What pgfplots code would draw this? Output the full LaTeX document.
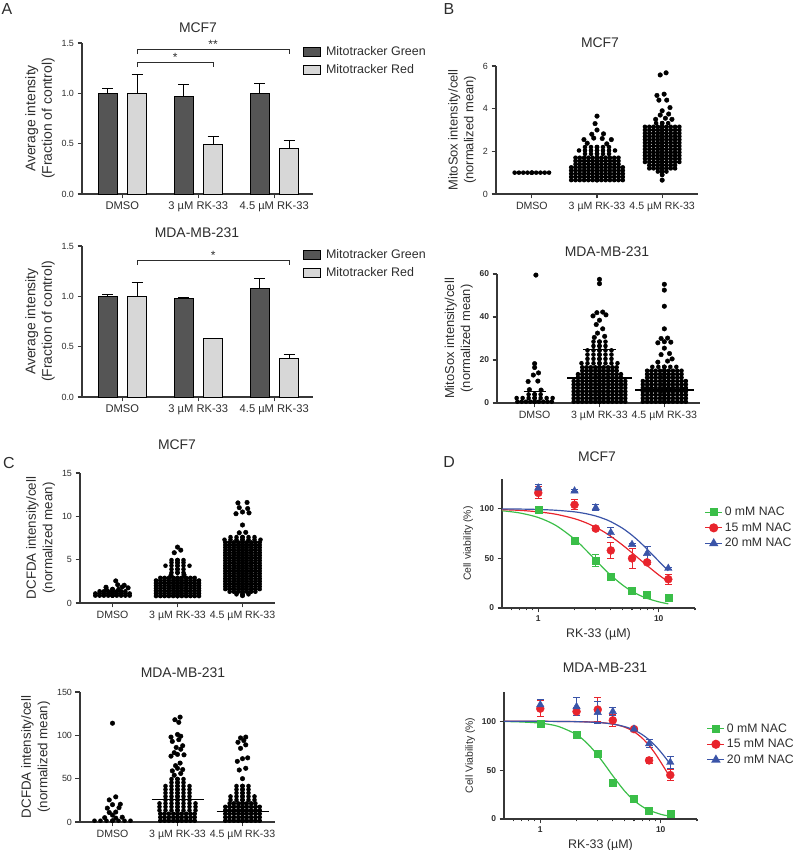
\documentclass[border=0pt]{standalone}
\usepackage{fontspec}
\setmainfont{Liberation Sans}
\usepackage{pgfplots}
\pgfplotsset{compat=1.18}

\definecolor{txt}{RGB}{45,45,45}
\definecolor{axc}{RGB}{55,55,55}
\definecolor{darkbar}{RGB}{85,85,85}
\definecolor{lightbar}{RGB}{215,215,215}
\definecolor{gr}{RGB}{58,190,72}
\definecolor{rd}{RGB}{232,36,44}
\definecolor{bl}{RGB}{58,84,168}

\pgfplotsset{
  panel/.style={
    scale only axis, clip=false,
    axis lines*=left, tick align=outside,
    axis line style={line width=1.1pt, axc},
    tick style={line width=1.1pt, axc},
    major tick length=4.5bp, minor tick length=2.5bp,
    tick label style={text=txt},
    yticklabel style={font=\fontsize{9}{10}\selectfont},
    xticklabel style={font=\fontsize{10.6}{12}\selectfont},
    label style={font=\fontsize{13}{16}\selectfont, text=txt, align=center},
    /pgf/number format/assume math mode=true,
  },
  boldticks/.style={yticklabel style={font=\bfseries\fontsize{8.5}{10}\selectfont}},
  swarm/.style={only marks, mark=none, forget plot,
    /pgfplots/error bars/x dir=both, /pgfplots/error bars/x explicit,
    /pgfplots/error bars/error mark=none,
    /pgfplots/error bars/error bar style={line width=4.6bp, line cap=round, dash pattern=on 0pt off 4.3bp, black}},
  loose/.style={swarm, /pgfplots/error bars/error bar style={dash pattern=on 0pt off 6bp}},
  dots/.style={only marks, mark=*, mark size=2.3bp, black, forget plot},
  meanline/.style={black, line width=1.2pt, forget plot},
  barlegend/.style={
    legend style={draw=none, fill=none, at={(0.957,0.99)}, anchor=north west, inner sep=0pt,
      row sep=3.5bp, column sep=3bp, font=\fontsize{12.5}{14}\selectfont, text=txt},
    legend cell align=left},
  bargreen/.style={fill=darkbar, draw=black, line width=0.8pt, bar shift=-0.19,
    legend image code/.code={\draw[##1, line width=0.8pt] (0bp,-4.5bp) rectangle (17bp,4.5bp);},
    /pgfplots/error bars/y dir=plus, /pgfplots/error bars/y explicit,
    /pgfplots/error bars/error bar style={line width=1.1pt, black},
    /pgfplots/error bars/error mark options={rotate=90, mark size=5.5bp, line width=1.1pt, black}},
  barred/.style={bargreen, fill=lightbar, bar shift=0.195},
  vmark/.style={only marks, color=#1, mark options={fill=#1, draw=#1},
    legend image code/.code={\draw[mark repeat=2, mark phase=2, ##1, sharp plot, line width=1.1pt] plot coordinates {(0bp,0bp)(8.5bp,0bp)(17bp,0bp)};},
    /pgfplots/error bars/y dir=both, /pgfplots/error bars/y explicit,
    /pgfplots/error bars/error bar style={line width=1pt, #1},
    /pgfplots/error bars/error mark options={rotate=90, mark size=3.5bp, line width=1pt, #1}},
  fitline/.style={#1, line width=1.2pt, smooth, forget plot},
}

\begin{document}
\begin{tikzpicture}
\path[use as bounding box] (0,0) rectangle (800bp,850bp);

% ---------- A: Mitotracker, MCF7
\begin{axis}[panel, barlegend, at={(82bp,656bp)}, anchor=south west, width=231bp, height=151bp,
  xmin=-0.53, xmax=2.51, ymin=0, ymax=1.5,
  xtick={0,1,2}, xticklabels={DMSO, 3 µM RK-33, 4.5 µM RK-33},
  xticklabel style={font=\fontsize{11.2}{12}\selectfont},
  ytick={0,0.5,1,1.5}, yticklabels={0.0,0.5,1.0,1.5},
  ylabel={Average intensity\\(Fraction of control)},
  ylabel style={font=\fontsize{14}{16.5}\selectfont},
  ybar, bar width=0.255]
\addplot[bargreen] coordinates {(0,1.00) +- (0,0.05) (1,0.97) +- (0,0.12) (2,1.00) +- (0,0.10)};
\addplot[barred] coordinates {(0,1.00) +- (0,0.19) (1,0.49) +- (0,0.08) (2,0.45) +- (0,0.08)};
\legend{Mitotracker Green, Mitotracker Red}
\draw[line width=0.9pt, txt] (0.195,1.39) -- (0.195,1.44) -- (2.195,1.44) -- (2.195,1.39);
\draw[line width=0.9pt, txt] (0.195,1.26) -- (0.195,1.31) -- (1.195,1.31) -- (1.195,1.26);
\node[anchor=base, inner sep=0pt, text=txt, font=\fontsize{12}{12}\selectfont] at (1.195,1.45) {**};
\node[anchor=base, inner sep=0pt, text=txt, font=\fontsize{12}{12}\selectfont] at (0.695,1.32) {*};
\end{axis}

% ---------- A: Mitotracker, MDA-MB-231
\begin{axis}[panel, barlegend, at={(82bp,453bp)}, anchor=south west, width=231bp, height=151bp,
  xmin=-0.53, xmax=2.51, ymin=0, ymax=1.5,
  xtick={0,1,2}, xticklabels={DMSO, 3 µM RK-33, 4.5 µM RK-33},
  xticklabel style={font=\fontsize{11.2}{12}\selectfont},
  ytick={0,0.5,1,1.5}, yticklabels={0.0,0.5,1.0,1.5},
  ylabel={Average intensity\\(Fraction of control)},
  ylabel style={font=\fontsize{14}{16.5}\selectfont},
  ybar, bar width=0.255]
\addplot[bargreen] coordinates {(0,1.00) +- (0,0.02) (1,0.98) +- (0,0.005) (2,1.08) +- (0,0.10)};
\addplot[barred] coordinates {(0,1.00) +- (0,0.14) (1,0.58) +- (0,0) (2,0.38) +- (0,0.04)};
\legend{Mitotracker Green, Mitotracker Red}
\draw[line width=0.9pt, txt] (0.195,1.31) -- (0.195,1.36) -- (2.195,1.36) -- (2.195,1.31);
\node[anchor=base, inner sep=0pt, text=txt, font=\fontsize{12}{12}\selectfont] at (1.195,1.37) {*};
\end{axis}

% ---------- B: MitoSox, MCF7
\begin{axis}[panel, at={(496bp,656bp)}, anchor=south west, width=202bp, height=128bp,
  xmin=-0.55, xmax=2.55, ymin=0, ymax=6, ytick={0,2,4,6},
  xtick={0,1,2}, xticklabels={DMSO, 3 µM RK-33, 4.5 µM RK-33},
  ylabel={MitoSox intensity/cell\\(normalized mean)}]
\addplot[swarm] coordinates {
 (0,1) +- (0.30,0)
 (1,0.65) +- (0.40,0) (1,0.80) +- (0.42,0) (1,0.95) +- (0.42,0) (1,1.10) +- (0.42,0)
 (1,1.25) +- (0.40,0) (1,1.40) +- (0.38,0) (1,1.55) +- (0.36,0) (1,1.70) +- (0.36,0)
 (2,1.05) +- (0.10,0) (2,1.20) +- (0.20,0) (2,1.35) +- (0.26,0) (2,1.50) +- (0.30,0)
 (2,1.65) +- (0.32,0) (2,1.80) +- (0.32,0) (2,1.95) +- (0.32,0) (2,2.10) +- (0.32,0)
 (2,2.25) +- (0.32,0) (2,2.40) +- (0.32,0) (2,2.55) +- (0.32,0) (2,2.70) +- (0.32,0)
 (2,2.85) +- (0.30,0) (2,3.00) +- (0.30,0) (2,3.15) +- (0.30,0)};
\addplot[loose] coordinates {
 (1,1.88) +- (0.22,0) (1,2.04) +- (0.30,0) (1,2.20) +- (0.20,0)
 (2,0.90) +- (0.05,0) (2,3.32) +- (0.15,0)};
\addplot[dots] coordinates {
 (0.85,2.38) (1.15,2.35) (0.80,2.55) (0.95,2.62) (1.08,2.60) (1.22,2.55) (0.92,2.80)
 (1.10,2.82) (1.00,3.00) (0.97,3.30) (1.00,3.65)
 (2.00,0.65) (1.90,3.50) (2.05,3.55) (2.15,3.50) (1.97,3.70) (2.10,3.75) (2.00,3.90)
 (2.12,4.05) (1.95,4.40) (2.07,4.40) (1.92,4.62) (2.03,4.68) (1.97,5.58) (2.06,5.68)};
\end{axis}

% ---------- B: MitoSox, MDA-MB-231
\begin{axis}[panel, boldticks, at={(497bp,447bp)}, anchor=south west, width=203bp, height=129bp,
  xmin=-0.58, xmax=2.55, ymin=0, ymax=60, ytick={0,20,40,60},
  xtick={0,1,2}, xticklabels={DMSO, 3 µM RK-33, 4.5 µM RK-33},
  ylabel={MitoSox intensity/cell\\(normalized mean)}]
\addplot[swarm] coordinates {
 (0,0.6) +- (0.33,0)
 (1,0.6) +- (0.44,0) (1,2.2) +- (0.44,0) (1,3.8) +- (0.44,0) (1,5.4) +- (0.44,0)
 (1,7.0) +- (0.42,0) (1,8.6) +- (0.42,0) (1,10.2) +- (0.40,0) (1,11.8) +- (0.36,0)
 (1,13.4) +- (0.34,0) (1,15.0) +- (0.30,0) (1,16.6) +- (0.28,0)
 (2,0.6) +- (0.36,0) (2,2.2) +- (0.36,0) (2,3.8) +- (0.36,0) (2,5.4) +- (0.36,0)
 (2,7.0) +- (0.36,0) (2,8.6) +- (0.36,0) (2,10.2) +- (0.34,0) (2,11.8) +- (0.32,0)
 (2,13.4) +- (0.30,0) (2,15.0) +- (0.28,0)};
\addplot[loose] coordinates {
 (0,2.3) +- (0.28,0) (0,4.0) +- (0.14,0)
 (1,18.5) +- (0.30,0) (1,20.5) +- (0.26,0) (1,22.5) +- (0.22,0) (1,24.5) +- (0.20,0)
 (1,26.5) +- (0.14,0) (1,28.5) +- (0.12,0)
 (2,16.8) +- (0.25,0)};
\addplot[dots] coordinates {
 (-0.08,6.2) (0.10,6.0) (-0.10,10.0) (0.05,10.2) (-0.02,13.0) (0.06,14.0) (0,16.5) (0,18.3) (0.02,59.5)
 (0.92,30.5) (1.08,31.0) (0.97,32.5) (1.05,34.5) (0.95,36.5) (1.00,38.5) (0.90,40.5)
 (1.10,41.0) (0.96,42.0) (1.05,42.3) (1.00,55.5) (1.00,57.5)
 (1.90,19.0) (2.05,19.5) (2.12,20.5) (1.95,22.5) (2.08,23.0) (2.00,25.5) (1.90,28.0)
 (2.00,28.5) (2.10,28.3) (1.95,30.0) (2.05,30.2) (2.00,34.5) (2.00,45.0) (2.00,52.5) (2.00,55.2)};
\addplot[meanline] coordinates {(-0.17,5.5) (0.17,5.5)};
\addplot[meanline] coordinates {(0.50,11.6) (1.50,11.6)};
\addplot[meanline] coordinates {(0.75,25.0) (1.25,25.0)};
\addplot[meanline] coordinates {(1.55,6.0) (2.45,6.0)};
\end{axis}

% ---------- C: DCFDA, MCF7
\begin{axis}[panel, at={(80bp,247bp)}, anchor=south west, width=195bp, height=130bp,
  xmin=-0.5, xmax=2.5, ymin=0, ymax=15, ytick={0,5,10,15},
  xtick={0,1,2}, xticklabels={DMSO, 3 µM RK-33, 4.5 µM RK-33},
  ylabel={DCFDA intensity/cell\\(normalized mean)},
  ylabel style={font=\fontsize{13.4}{16.5}\selectfont}]
\addplot[swarm] coordinates {
 (0,0.85) +- (0.28,0) (0,1.10) +- (0.28,0) (0,1.35) +- (0.26,0)
 (1,0.8) +- (0.37,0) (1,1.1) +- (0.37,0) (1,1.4) +- (0.37,0) (1,1.7) +- (0.37,0)
 (1,2.0) +- (0.37,0) (1,2.3) +- (0.36,0) (1,2.6) +- (0.34,0) (1,2.9) +- (0.30,0)
 (2,1.3) +- (0.20,0) (2,1.6) +- (0.28,0) (2,1.9) +- (0.32,0) (2,2.2) +- (0.33,0)
 (2,2.5) +- (0.33,0) (2,2.8) +- (0.33,0) (2,3.1) +- (0.33,0) (2,3.4) +- (0.33,0)
 (2,3.7) +- (0.33,0) (2,4.0) +- (0.33,0) (2,4.3) +- (0.33,0) (2,4.6) +- (0.33,0)
 (2,4.9) +- (0.33,0) (2,5.2) +- (0.33,0) (2,5.5) +- (0.33,0) (2,5.8) +- (0.32,0)
 (2,6.1) +- (0.32,0) (2,6.4) +- (0.30,0) (2,6.7) +- (0.30,0) (2,7.0) +- (0.28,0)};
\addplot[loose] coordinates {
 (0,1.6) +- (0.18,0)
 (1,3.5) +- (0.12,0) (1,3.9) +- (0.18,0) (1,4.3) +- (0.20,0) (1,4.65) +- (0.18,0) (1,4.95) +- (0.10,0)
 (2,1.0) +- (0.10,0) (2,7.3) +- (0.28,0) (2,7.6) +- (0.26,0)};
\addplot[dots] coordinates {
 (-0.10,1.82) (0.15,1.85) (0.24,1.75) (0.08,2.10) (0.18,2.05) (0.05,2.55)
 (0.90,3.20) (1.10,3.25) (0.95,5.80) (1.05,6.10) (1.00,6.45)
 (2.00,0.85) (1.95,8.10) (2.05,8.15) (2.00,9.00) (1.90,10.30) (2.00,10.50) (2.10,10.40)
 (1.95,11.00) (2.08,10.90) (1.93,11.55) (2.07,11.60)};
\end{axis}

% ---------- C: DCFDA, MDA-MB-231
\begin{axis}[panel, at={(80bp,28bp)}, anchor=south west, width=195bp, height=130bp,
  xmin=-0.5, xmax=2.5, ymin=0, ymax=150, ytick={0,50,100,150},
  xtick={0,1,2}, xticklabels={DMSO, 3 µM RK-33, 4.5 µM RK-33},
  ylabel={DCFDA intensity/cell\\(normalized mean)},
  ylabel style={font=\fontsize{13.4}{16.5}\selectfont}]
\addplot[swarm] coordinates {
 (1,1.5) +- (0.30,0) (1,5.5) +- (0.30,0) (1,9.5) +- (0.30,0)
 (2,1.5) +- (0.28,0) (2,5.5) +- (0.28,0) (2,9.5) +- (0.28,0) (2,13.5) +- (0.28,0)
 (2,17.5) +- (0.28,0) (2,21.5) +- (0.26,0)};
\addplot[loose] coordinates {
 (0,1.5) +- (0.28,0)
 (1,13.5) +- (0.30,0) (1,17.5) +- (0.28,0) (1,21.5) +- (0.28,0) (1,25.5) +- (0.26,0)
 (1,29.5) +- (0.26,0) (1,33.5) +- (0.24,0) (1,37.5) +- (0.20,0) (1,41.5) +- (0.20,0)
 (1,45.5) +- (0.16,0) (1,49.5) +- (0.16,0)
 (2,25.5) +- (0.24,0) (2,29.5) +- (0.20,0) (2,33.5) +- (0.16,0) (2,37.5) +- (0.18,0) (2,41.5) +- (0.16,0)};
\addplot[dots] coordinates {
 (-0.12,5) (0.05,4.5) (0.15,5.5) (0,8) (-0.05,11) (0.05,11.5) (-0.08,16) (0.10,16.5)
 (0,20) (0.12,20.5) (-0.05,25.5) (0.05,29) (0,114)
 (0.95,54) (1.05,56) (0.92,59) (1.00,62) (1.08,60.5) (0.97,65) (1.04,68) (0.90,76)
 (1.00,78) (1.10,77.5) (0.95,80) (1.05,84) (0.98,86) (1.08,88) (0.92,93) (1.02,95)
 (0.90,98) (1.05,99) (1.00,101) (1.02,115) (0.96,118) (1.04,121)
 (2.00,50) (1.95,60) (2.05,62) (1.92,70) (2.00,73) (2.08,74) (1.97,85) (2.05,89)
 (1.93,92) (2.02,94) (1.97,97) (2.05,98)};
\addplot[meanline] coordinates {(0.60,26) (1.40,26)};
\addplot[meanline] coordinates {(1.60,12.5) (2.40,12.5)};
\end{axis}

% ---------- D: viability, MCF7
\begin{axis}[panel, boldticks, xmode=log,
  at={(502bp,242bp)}, anchor=south west, width=193bp, height=129bp,
  xmin=0.5, xmax=20, ymin=0, ymax=130,
  xtick={1,10}, xticklabels={1,10}, minor xtick={0.6,0.7,0.8,0.9,2,3,4,5,6,7,8,9,20},
  ytick={0,50,100},
  xticklabel style={font=\bfseries\fontsize{8.5}{10}\selectfont},
  xlabel={RK-33 (µM)}, ylabel={Cell viability (\%)},
  xlabel style={font=\fontsize{12.5}{14}\selectfont},
  ylabel style={font=\fontsize{10.5}{12}\selectfont},
  legend style={draw=none, fill=none, at={(1.049,0.79)}, anchor=north west, inner sep=0pt, row sep=3.5bp,
    font=\fontsize{12.3}{14}\selectfont, text=txt, nodes={inner ysep=1bp}},
  legend cell align=left]
\addplot[vmark=gr, mark=square*, mark size=3.5bp] coordinates {
 (1,99) +- (0,1) (2,68) +- (0,2) (3,48) +- (0,6) (4,32) +- (0,2) (6,17) +- (0,1) (8,13) +- (0,1) (12,10) +- (0,1)};
\addplot[vmark=rd, mark=*, mark size=4bp] coordinates {
 (1,116) +- (0,6) (2,104) +- (0,5) (3,80) +- (0,2) (4,58) +- (0,8) (6,50) +- (0,10) (8,46) +- (0,2) (12,29) +- (0,5)};
\addplot[vmark=bl, mark=triangle*, mark size=4.3bp] coordinates {
 (1,121) +- (0,3) (2,118) +- (0,1) (3,101) +- (0,3) (4,76) +- (0,5) (6,64) +- (0,1) (8,55) +- (0,7) (12,40) +- (0,1)};
\legend{0 mM NAC, 15 mM NAC, 20 mM NAC}
\addplot[fitline=gr] coordinates {(0.5,98.0) (0.7,95.8) (1,91.2) (1.4,83.2) (2,69.4) (2.5,58.1) (3,48.1) (3.5,39.8) (4,33.0) (5,23.2) (6,16.8) (7,12.6) (8,9.7) (10,6.2) (12,4.2)};
\addplot[fitline=rd] coordinates {(0.5,99.1) (0.7,98.4) (1,96.9) (1.4,94.5) (2,90.0) (2.5,85.8) (3,81.3) (3.5,76.8) (4,72.2) (5,63.5) (6,55.6) (7,48.7) (8,42.8) (10,33.3) (12,26.5)};
\addplot[fitline=bl] coordinates {(0.5,99.8) (0.7,99.7) (1,99.3) (1.4,98.5) (2,96.9) (2.5,95.0) (3,92.7) (3.5,90.0) (4,87.0) (5,80.4) (6,73.3) (7,66.2) (8,59.3) (10,47.2) (12,37.4)};
\end{axis}

% ---------- D: viability, MDA-MB-231
\begin{axis}[panel, boldticks, xmode=log,
  at={(504bp,31bp)}, anchor=south west, width=193bp, height=127bp,
  xmin=0.5, xmax=20, ymin=0, ymax=130,
  xtick={1,10}, xticklabels={1,10}, minor xtick={0.6,0.7,0.8,0.9,2,3,4,5,6,7,8,9,20},
  ytick={0,50,100},
  xticklabel style={font=\bfseries\fontsize{8.5}{10}\selectfont},
  xlabel={RK-33 (µM)}, ylabel={Cell Viability (\%)},
  xlabel style={font=\fontsize{12.5}{14}\selectfont},
  ylabel style={font=\fontsize{10.5}{12}\selectfont},
  legend style={draw=none, fill=none, at={(1.05,0.76)}, anchor=north west, inner sep=0pt, row sep=3.5bp,
    font=\fontsize{12.3}{14}\selectfont, text=txt, nodes={inner ysep=1bp}},
  legend cell align=left]
\addplot[vmark=gr, mark=square*, mark size=3.5bp] coordinates {
 (1,98) +- (0,1) (2,86) +- (0,2) (3,67) +- (0,1) (4,37) +- (0,1) (6,21) +- (0,1) (8,9) +- (0,1) (12,5) +- (0,1)};
\addplot[vmark=rd, mark=*, mark size=4bp] coordinates {
 (1,113) +- (0,8) (2,110) +- (0,4) (3,112) +- (0,12) (4,101) +- (0,6) (6,92) +- (0,1) (8,60) +- (0,3) (12,45) +- (0,6)};
\addplot[vmark=bl, mark=triangle*, mark size=4.3bp] coordinates {
 (1,117) +- (0,5) (2,115) +- (0,9) (3,109) +- (0,11) (4,110) +- (0,4) (6,92) +- (0,1) (8,77) +- (0,4) (12,58) +- (0,6)};
\legend{0 mM NAC, 15 mM NAC, 20 mM NAC}
\addplot[fitline=gr] coordinates {(0.5,99.8) (0.7,99.3) (1,98.1) (1.4,94.9) (2,86.4) (2.5,76.4) (3,65.2) (3.5,54.2) (4,44.2) (5,28.8) (6,19.0) (7,12.9) (8,9.0) (10,4.8) (12,2.8)};
\addplot[fitline=rd] coordinates {(0.5,100) (1,100) (2,99.7) (3,99.0) (4,97.2) (5,94.1) (6,89.3) (7,82.9) (8,75.3) (9,66.9) (10,58.2) (11,50.0) (12,42.4)};
\addplot[fitline=bl] coordinates {(0.5,100) (1,100) (2,99.6) (3,98.8) (4,97.2) (5,94.6) (6,91.1) (7,86.5) (8,81.1) (9,75.1) (10,68.7) (11,62.3) (12,56.0)};
\end{axis}

% ---------- titles and panel letters
\begin{scope}[every node/.style={text=txt}]
\node[font=\fontsize{16}{18}\selectfont] at (7bp,841bp) {A};
\node[font=\fontsize{16}{18}\selectfont] at (449bp,841bp) {B};
\node[font=\fontsize{16}{18}\selectfont] at (9bp,387bp) {C};
\node[font=\fontsize{16}{18}\selectfont] at (449bp,388bp) {D};
\node[font=\fontsize{14}{16}\selectfont] at (198bp,822bp) {MCF7};
\node[font=\fontsize{14}{16}\selectfont] at (197bp,617bp) {MDA-MB-231};
\node[font=\fontsize{14}{16}\selectfont] at (600bp,807bp) {MCF7};
\node[font=\fontsize{14}{16}\selectfont] at (607bp,598bp) {MDA-MB-231};
\node[font=\fontsize{14}{16}\selectfont] at (177bp,405bp) {MCF7};
\node[font=\fontsize{14}{16}\selectfont] at (183bp,177bp) {MDA-MB-231};
\node[font=\fontsize{14}{16}\selectfont] at (597bp,393bp) {MCF7};
\node[font=\fontsize{14}{16}\selectfont] at (605bp,182bp) {MDA-MB-231};
\end{scope}
\end{tikzpicture}
\end{document}
